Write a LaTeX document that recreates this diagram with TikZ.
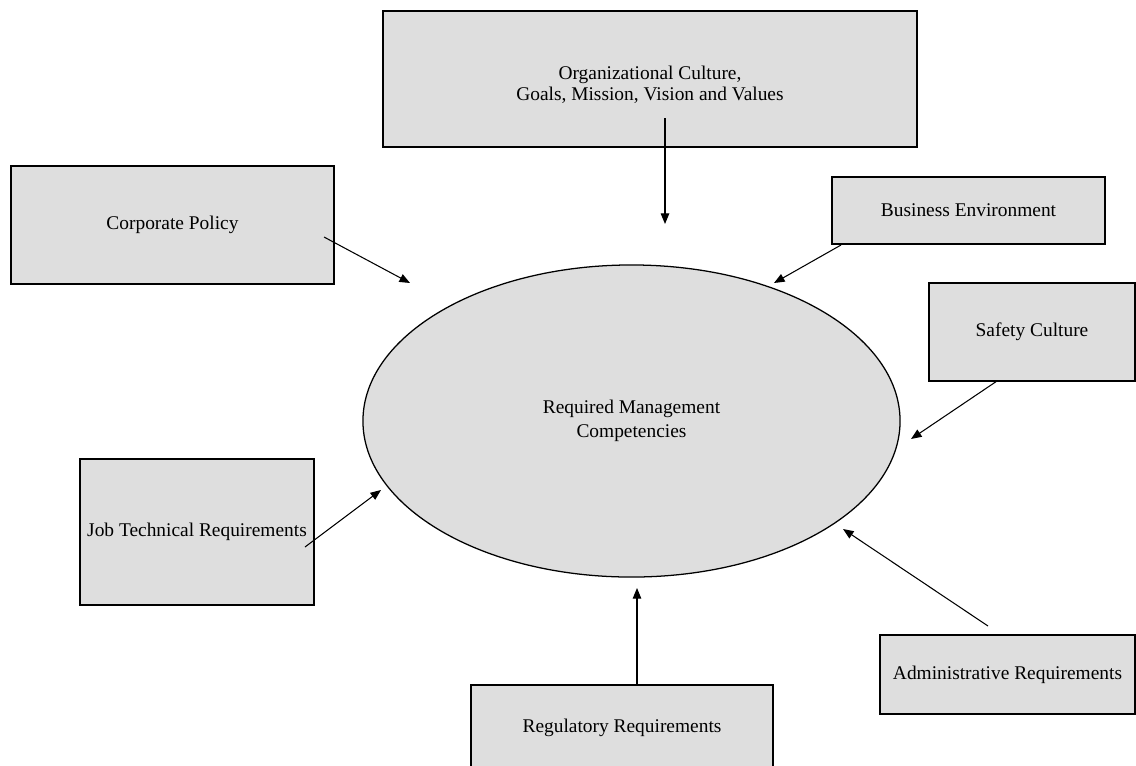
\documentclass[tikz,border=0pt]{standalone}
\usepackage{fontspec}
\setmainfont{Liberation Serif}
\usetikzlibrary{arrows.meta,positioning,shapes.geometric}

\begin{document}
\begin{tikzpicture}[
    x=0.025cm, y=-0.025cm,
    every node/.style={font=\fontsize{13.8}{17}\selectfont},
    box/.style={draw=black, line width=0.9pt, fill=black!13, inner sep=0pt, outer sep=0pt},
    core/.style={ellipse, draw=black, line width=0.9pt, fill=black!13, inner sep=0pt, align=center},
    feed/.style={-{Triangle[length=7.5pt, width=6pt]}, draw=black, line width=0.75pt}
    ]
    \useasboundingbox (0,0) rectangle (1136,765);

    % influences
    \node[box, minimum width=13.35cm, minimum height=3.4cm,
          label={[yshift=-4pt, align=center, font=\fontsize{13.8}{14.5}\selectfont]center:Organizational Culture,\\Goals, Mission, Vision and Values}] (org) at (650,79) {};
    \node[box, minimum width=8.075cm, minimum height=2.95cm] (corp) at (172.5,225) {Corporate Policy};
    \node[box, minimum width=6.825cm, minimum height=1.675cm] (bus) at (968.5,210.5) {Business Environment};
    \node[box, minimum width=5.15cm, minimum height=2.45cm] (safety) at (1032,332) {Safety Culture};
    \node[box, minimum width=5.85cm, minimum height=3.65cm] (job) at (197,532) {Job Technical Requirements};
    \node[box, minimum width=7.55cm, minimum height=2.15cm] (reg) at (622,728) {Regulatory Requirements};
    \node[box, minimum width=6.375cm, minimum height=1.975cm] (admin) at (1007.5,674.5) {Administrative Requirements};

    % competencies
    \node[core, minimum width=13.425cm, minimum height=7.8cm] (rmc) at (631.5,421) {Required Management\\Competencies};

    % arrow ends
    \coordinate (corp-s) at (324,237);  \coordinate (corp-e) at (410,283);
    \coordinate (org-s) at (665,118);   \coordinate (org-e) at (665,224);
    \coordinate (bus-s) at (841,245);   \coordinate (bus-e) at (774,283);
    \coordinate (safety-s) at (997,381); \coordinate (safety-e) at (911,439);
    \coordinate (job-s) at (305,547);   \coordinate (job-e) at (381,490);
    \coordinate (reg-s) at (637,685);   \coordinate (reg-e) at (637,588);
    \coordinate (admin-s) at (988,626); \coordinate (admin-e) at (843,529);

    \draw[feed] (corp-s) -- (corp-e);
    \draw[feed] (org-s) -- (org-e);
    \draw[feed] (bus-s) -- (bus-e);
    \draw[feed] (safety-s) -- (safety-e);
    \draw[feed] (job-s) -- (job-e);
    \draw[feed] (reg-s) -- (reg-e);
    \draw[feed] (admin-s) -- (admin-e);
  \end{tikzpicture}
\end{document}
